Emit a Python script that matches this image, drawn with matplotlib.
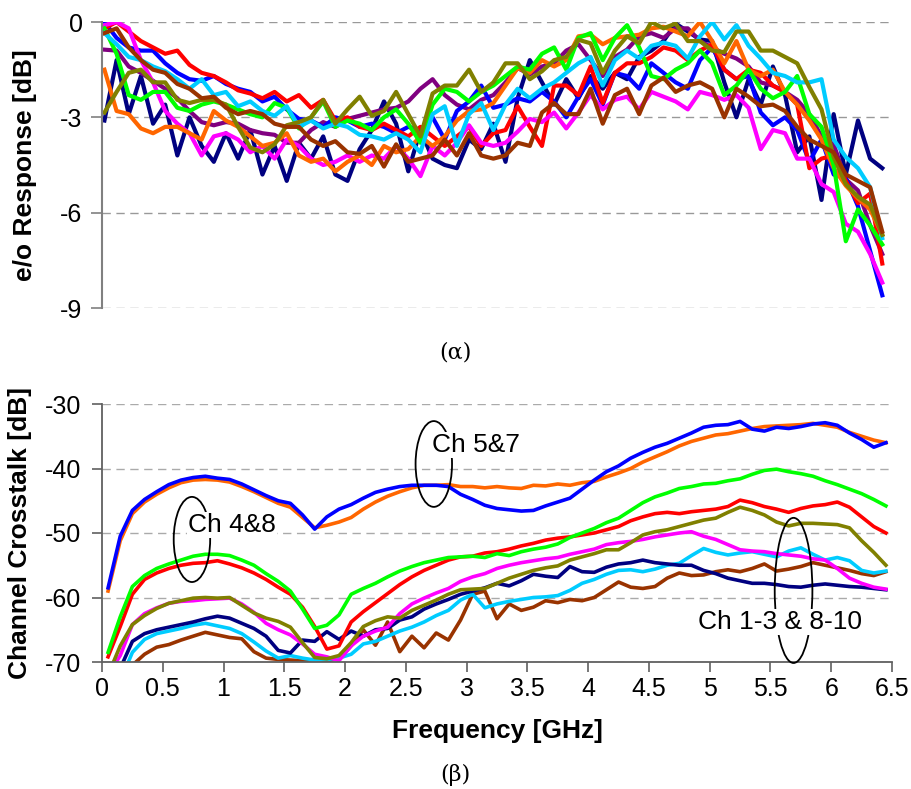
import numpy as np
import matplotlib
matplotlib.use('Agg')
import matplotlib.pyplot as plt
from matplotlib.patches import Ellipse

plt.rcParams['font.family'] = ['Liberation Sans', 'DejaVu Sans']
plt.rcParams['axes.unicode_minus'] = False

# ---------------- data ----------------
# top panel: e/o response [dB], sampled every 0.1 GHz starting at 0.02 GHz
freq_top = np.round(np.arange(0.02, 6.45, 0.1), 2)

eo_navy = [
    -3.1, -1.2, -2.9, -1.7, -3.2, -2.6, -4.2, -3.0, -3.9, -4.4,
    -3.5, -4.3, -3.4, -4.8, -3.9, -5.0, -3.8, -4.3, -3.6, -4.8,
    -5.0, -4.0, -3.4, -2.5, -3.2, -4.7, -3.4, -4.3, -4.5, -4.6,
    -3.7, -4.0, -3.2, -4.4, -2.4, -1.2, -1.9, -2.6, -1.8, -2.4,
    -1.7, -2.1, -1.6, -1.8, -1.1, -0.9, -0.6, -0.05, -0.3, -0.55,
    -0.6, -1.9, -3.0, -1.8, -2.6, -1.4, -2.3, -4.1, -3.6, -5.6,
    -2.9, -4.8, -3.1, -4.3, -4.6]
eo_blue = [
    0.0, -0.5, -0.8, -0.9, -0.9, -1.3, -1.6, -1.8, -1.85, -1.7,
    -1.95, -2.1, -2.2, -2.5, -2.35, -2.75, -3.05, -3.1, -3.3, -3.0,
    -3.1, -3.3, -3.2, -3.3, -3.5, -3.3, -3.4, -3.0, -3.7, -2.8,
    -2.5, -2.0, -2.7, -2.6, -2.4, -2.5, -2.2, -2.5, -3.0, -2.35,
    -1.8, -2.6, -1.6, -1.7, -2.1, -1.3, -1.6, -1.9, -2.1, -1.2,
    -0.8, -1.5, -1.8, -1.7, -2.85, -3.25, -3.0, -3.4, -4.4, -3.7,
    -4.8, -4.9, -5.8, -7.2, -8.6]
eo_red = [
    -0.2, 0.0, -0.3, -0.6, -0.8, -1.0, -0.9, -1.35, -1.6, -1.7,
    -1.9, -2.15, -2.25, -2.4, -2.2, -2.5, -2.3, -2.7, -2.45, -3.1,
    -3.0, -3.3, -3.4, -3.2, -3.4, -3.6, -3.3, -3.6, -3.9, -3.6,
    -3.3, -3.9, -3.5, -3.4, -2.65, -3.3, -3.9, -2.0, -2.0, -2.3,
    -1.4, -2.55, -1.6, -1.3, -1.3, -1.1, -0.8, -0.9, -1.2, -0.9,
    -0.7, -1.5, -1.8, -1.5, -1.6, -2.0, -2.2, -2.6, -4.6, -4.3,
    -4.2, -5.0, -5.7, -5.4, -7.6]
eo_green = [
    -0.2, -1.0, -2.3, -2.45, -2.2, -2.2, -2.7, -2.8, -2.6, -2.5,
    -2.6, -2.75, -2.9, -3.0, -2.55, -2.7, -3.35, -3.0, -2.5, -3.3,
    -3.1, -3.2, -3.4, -3.0, -2.75, -3.2, -3.8, -2.6, -2.1, -2.2,
    -2.5, -2.2, -2.0, -1.7, -1.4, -1.5, -1.0, -0.8, -1.5, -0.5,
    -0.35, -1.2, -0.5, -0.1, -0.8, -1.7, -1.8, -1.5, -1.3, -0.9,
    -1.3, -2.3, -2.0, -1.5, -2.1, -2.4, -2.2, -1.7, -2.9, -3.3,
    -4.5, -6.9, -5.9, -6.4, -7.0]
eo_magenta = [
    -0.1, 0.0, -0.2, -1.2, -1.9, -2.8, -3.2, -3.5, -4.2, -3.6,
    -3.5, -3.7, -4.1, -3.9, -4.3, -3.7, -3.9, -4.3, -4.5, -4.4,
    -4.2, -4.4, -4.2, -4.3, -3.9, -4.3, -4.85, -3.9, -4.2, -3.8,
    -3.25, -3.8, -3.9, -3.8, -3.45, -3.05, -3.15, -2.85, -3.35, -2.85,
    -2.3, -2.75, -2.45, -2.35, -2.75, -2.2, -2.35, -2.5, -2.75, -2.2,
    -2.3, -2.45, -2.3, -2.7, -4.0, -3.4, -3.5, -4.3, -4.3, -5.1,
    -5.35, -6.35, -6.6, -7.3, -8.2]
eo_cyan = [
    -0.35, -0.7, -1.1, -1.2, -1.4, -1.55, -1.8, -2.1, -1.8, -2.3,
    -2.2, -2.65, -2.5, -2.8, -2.95, -2.65, -3.3, -3.1, -3.35, -3.2,
    -3.3, -3.55, -3.6, -3.7, -3.5, -3.7, -4.1, -2.9, -2.65, -3.9,
    -2.9, -2.55, -3.4, -2.6, -2.1, -2.4, -2.1, -1.9, -1.6, -1.3,
    -1.1, -2.0, -1.2, -0.9, -1.15, -0.75, -0.65, -0.75, -1.15, -0.45,
    0.0, -0.55, -0.1, -0.75, -1.15, -1.6, -1.7, -1.9, -1.9, -1.8,
    -3.7, -4.25, -4.6, -5.2, -6.8]
eo_orange = [
    -1.5, -2.8, -2.9, -3.35, -3.5, -3.3, -3.3, -3.5, -3.7, -2.8,
    -3.1, -3.3, -3.6, -3.9, -3.8, -3.5, -4.2, -4.4, -4.3, -4.7,
    -4.4, -4.2, -4.5, -3.9, -4.1, -4.0, -3.6, -3.9, -3.6, -3.1,
    -2.8, -2.75, -2.55, -2.0, -1.45, -1.6, -1.2, -1.4, -1.2, -0.45,
    -0.4, -0.7, -0.5, -0.45, -0.4, -0.2, -0.15, -0.3, -0.45, 0.0,
    -0.6, -1.3, -0.6, -1.5, -1.7, -1.5, -2.2, -2.6, -3.1, -3.7,
    -4.6, -5.15, -5.55, -5.9, -6.7]
eo_olive = [
    -2.85, -2.2, -1.6, -1.5, -1.9, -1.9, -2.45, -2.55, -2.45, -2.45,
    -2.6, -3.3, -3.95, -4.1, -3.85, -3.25, -3.15, -3.0, -2.45, -3.2,
    -2.75, -2.35, -2.95, -2.8, -2.2, -2.9, -3.6, -2.25, -2.0, -2.0,
    -1.5, -2.2, -1.9, -1.3, -1.3, -1.8, -1.55, -1.2, -1.1, -0.56,
    -0.67, -1.6, -0.9, -0.45, -0.67, 0.0, -0.2, -0.05, -0.6, -0.6,
    -0.9, -0.95, -0.3, -0.3, -0.9, -0.9, -1.1, -1.3, -2.05, -2.75,
    -4.25, -5.1, -5.5, -5.75, -6.7]
eo_brown = [
    -0.35, -0.2, -0.8, -1.2, -1.5, -1.6, -1.95, -2.1, -2.4, -2.35,
    -2.7, -2.9, -2.8, -2.9, -3.2, -3.3, -3.3, -3.7, -3.9, -3.75,
    -4.1, -4.15, -3.9, -4.55, -3.85, -4.4, -4.3, -4.2, -3.7, -4.2,
    -3.5, -4.2, -4.3, -4.2, -3.8, -3.9, -2.85, -2.55, -2.9, -2.9,
    -2.1, -3.2, -2.3, -2.1, -2.9, -2.0, -1.75, -2.2, -2.0, -1.9,
    -2.1, -3.0, -2.1, -2.35, -2.65, -2.6, -2.8, -3.3, -3.7, -3.9,
    -4.1, -4.8, -5.0, -5.2, -6.6]
eo_purple = [
    -0.87, -0.9, -1.4, -1.6, -1.85, -2.1, -2.4, -2.8, -3.15, -3.25,
    -3.15, -3.2, -3.4, -3.5, -3.55, -3.8, -3.8, -3.4, -3.15, -3.3,
    -3.05, -2.95, -2.85, -2.75, -2.7, -2.5, -2.1, -1.8, -2.3, -2.6,
    -2.75, -2.45, -2.3, -1.9, -1.45, -1.65, -1.4, -1.3, -0.9, -0.7,
    -1.2, -1.7, -1.1, -0.87, -0.45, -0.35, -0.5, -0.2, -0.2, -0.6,
    -0.8, -1.0, -1.15, -1.4, -1.9, -2.0, -2.2, -2.45, -2.9, -3.6,
    -3.85, -4.95, -5.3, -6.4, -7.3]

# bottom panel: channel crosstalk [dB], sampled every 0.1 GHz starting at 0.05 GHz
freq_bot = np.round(np.arange(0.05, 6.5, 0.1), 2)

xt_blue = [
    -58.5, -50.5, -46.5, -44.8, -43.6, -42.5, -41.8, -41.4, -41.2, -41.5,
    -41.7, -42.4, -43.3, -44.2, -45.0, -45.4, -47.2, -49.4, -47.5, -46.3,
    -45.6, -44.6, -43.7, -43.2, -42.8, -42.6, -42.6, -42.6, -42.8, -44.0,
    -44.8, -45.7, -46.2, -46.4, -46.6, -46.5, -45.8, -45.2, -44.6, -43.2,
    -41.8, -40.5, -39.6, -38.4, -37.5, -36.7, -36.1, -35.3, -34.5, -33.6,
    -33.3, -33.2, -32.7, -33.9, -34.2, -33.6, -33.8, -33.5, -33.1, -32.9,
    -33.3, -34.5, -35.5, -36.7, -36.0]
xt_orange = [
    -59.0, -51.2, -47.0, -45.2, -44.0, -43.0, -42.2, -41.8, -41.7, -41.8,
    -42.1, -42.8, -43.6, -44.5, -45.4, -46.0, -47.6, -49.2, -48.8, -48.3,
    -47.6, -46.3, -45.2, -44.3, -43.6, -43.0, -42.6, -42.6, -42.5, -42.8,
    -42.8, -43.0, -42.8, -43.0, -43.1, -42.6, -42.7, -42.4, -42.6, -42.2,
    -42.0, -41.3, -40.7, -40.0, -39.0, -38.2, -37.4, -36.5, -35.8, -35.3,
    -34.8, -34.6, -34.2, -33.8, -33.5, -33.4, -33.3, -33.2, -33.0, -33.3,
    -33.6, -34.4, -35.0, -35.6, -36.0]
xt_green = [
    -68.5, -63.0, -58.3, -56.6, -55.5, -54.8, -54.2, -53.6, -53.3, -53.3,
    -53.5, -54.2, -55.0, -56.3, -57.5, -59.0, -61.8, -64.8, -64.3, -62.7,
    -59.5, -58.6, -57.8, -56.8, -55.9, -55.2, -54.6, -54.2, -53.8, -53.7,
    -53.6, -53.8, -53.2, -53.5, -52.9, -52.5, -52.2, -51.7, -50.7, -50.0,
    -49.3, -48.4, -47.7, -46.5, -45.3, -44.4, -43.8, -43.1, -42.8, -42.4,
    -42.3, -41.9, -41.6, -40.9, -40.3, -40.1, -40.5, -40.8, -41.2, -41.9,
    -42.5, -43.2, -43.9, -44.8, -45.8]
xt_red = [
    -69.2, -64.5, -59.5, -57.2, -56.2, -55.5, -55.0, -54.7, -54.6, -54.3,
    -54.8, -55.4, -56.2, -57.2, -58.4, -59.5, -61.5, -64.5, -68.0, -67.5,
    -63.8, -62.2, -60.8, -59.4, -58.0, -56.8, -55.8, -55.0, -54.2, -53.7,
    -53.6, -53.1, -52.9, -52.5, -52.0, -51.6, -51.1, -50.8, -50.6, -50.3,
    -50.0, -49.5, -49.0, -48.1, -47.5, -47.0, -46.8, -47.0, -46.7, -46.5,
    -46.3, -45.9, -44.9, -45.3, -45.9, -46.3, -46.8, -46.2, -45.8, -45.6,
    -45.2, -46.0, -47.5, -49.0, -50.0]
xt_magenta = [
    -72.0, -69.0, -64.2, -62.5, -61.6, -60.9, -60.6, -60.5, -60.3, -60.2,
    -60.1, -61.0, -62.3, -64.0, -65.0, -65.8, -67.2, -68.8, -69.2, -69.8,
    -67.5, -66.0, -65.2, -64.6, -62.5, -61.0, -60.1, -59.3, -58.6, -57.5,
    -56.8, -56.3, -55.5, -55.0, -54.6, -54.3, -54.0, -53.8, -53.3, -52.9,
    -52.5, -51.8, -51.5, -51.3, -51.0, -50.6, -50.3, -50.0, -49.8, -50.5,
    -51.0, -51.8, -52.6, -52.8, -52.9, -53.2, -53.4, -53.6, -54.0, -54.2,
    -55.5, -57.0, -57.8, -58.4, -58.7]
xt_olive = [
    -72.0, -67.5, -64.2, -62.8, -61.7, -60.9, -60.5, -60.1, -60.0, -60.1,
    -60.0, -61.2, -62.4, -63.2, -63.7, -64.6, -67.0, -69.3, -69.5, -69.0,
    -67.0, -64.5, -63.6, -63.0, -63.2, -62.0, -61.2, -60.4, -59.5, -58.8,
    -58.7, -58.6, -57.8, -57.0, -56.4, -55.8, -55.4, -55.1, -54.2, -53.7,
    -53.2, -52.6, -52.6, -51.5, -50.3, -49.8, -49.5, -49.0, -48.5, -48.0,
    -47.7, -46.8, -46.0, -46.5, -47.2, -48.3, -48.9, -48.5, -48.5, -48.6,
    -48.7, -49.2, -51.2, -53.0, -55.0]
xt_navy = [
    -74.0, -71.0, -66.8, -65.6, -65.0, -64.6, -64.2, -63.8, -63.3, -62.9,
    -63.2, -64.0, -64.8, -66.0, -68.2, -68.6, -66.6, -66.8, -65.3, -66.5,
    -65.2, -66.0, -65.0, -64.8, -63.5, -63.0, -61.8, -61.0, -60.3, -59.5,
    -59.0, -58.5, -57.8, -58.2, -57.4, -56.4, -56.7, -56.9, -55.2, -56.0,
    -56.1, -55.3, -54.8, -54.6, -54.2, -54.6, -54.8, -55.0, -55.0, -55.8,
    -56.3, -57.0, -57.4, -57.8, -57.8, -58.0, -58.3, -58.4, -58.1, -57.9,
    -58.1, -58.3, -58.4, -58.6, -58.8]
xt_cyan = [
    -75.0, -73.0, -68.5, -66.5, -65.6, -65.2, -64.8, -64.3, -64.0, -64.4,
    -64.8, -65.6, -66.9, -68.3, -69.4, -69.0, -69.4, -69.7, -69.6, -69.4,
    -68.8, -67.2, -66.8, -66.0, -65.2, -64.6, -63.8, -62.8, -62.0, -60.4,
    -59.5, -61.6, -61.0, -60.6, -60.3, -60.0, -59.9, -59.7, -58.9, -57.8,
    -57.2, -56.4, -55.8, -55.7, -56.0, -55.6, -55.0, -54.7, -53.5, -52.4,
    -53.0, -53.4, -53.1, -52.9, -53.3, -53.7, -52.8, -52.3, -53.3, -54.2,
    -53.8, -54.3, -55.8, -56.2, -55.9]
xt_brown = [
    -78.0, -74.0, -70.5, -68.8, -67.7, -67.3, -66.6, -66.0, -65.4, -65.8,
    -66.2, -66.4, -68.4, -69.4, -69.6, -69.7, -69.8, -69.6, -69.8, -69.5,
    -67.5, -65.0, -67.4, -63.8, -68.4, -66.0, -67.8, -65.5, -66.6, -63.5,
    -59.5, -59.0, -63.3, -61.0, -62.0, -61.5, -60.5, -60.8, -60.3, -60.5,
    -60.0, -58.8, -57.6, -58.4, -58.6, -58.3, -57.0, -56.2, -56.6, -56.5,
    -56.0, -55.7, -56.0, -55.5, -54.8, -55.9, -55.6, -55.2, -54.6, -55.0,
    -55.4, -55.8, -56.3, -56.6, -56.0]

# colours used in the original
NAVY, BLUE, RED, LIME = '#000080', '#0000FF', '#FF0000', '#00FF00'
MAGENTA, CYAN, ORANGE = '#FF00FF', '#00CCFF', '#FF6600'
OLIVE, BROWN, PURPLE = '#808000', '#993300', '#800080'

fig = plt.figure(figsize=(9.11, 7.89), dpi=100)

# ---------------- top panel: e/o response ----------------
ax1 = fig.add_axes([102 / 911, 1 - 308 / 789, 790 / 911, 286 / 789])
top_series = [(eo_navy, NAVY), (eo_purple, PURPLE), (eo_blue, BLUE),
              (eo_red, RED), (eo_magenta, MAGENTA), (eo_orange, ORANGE),
              (eo_green, LIME), (eo_cyan, CYAN), (eo_olive, OLIVE),
              (eo_brown, BROWN)]
for vals, col in top_series:
    ax1.plot(freq_top, vals, color=col, lw=3.0, solid_joinstyle='round')

ax1.set_xlim(0, 6.5)
ax1.set_ylim(-9, 0)
ax1.set_xticks([])
ax1.set_yticks([0, -3, -6, -9])
ax1.set_yticklabels(['0', '-3', '-6', '-9'])
ax1.tick_params(axis='y', direction='out', length=8, width=1.2, color='#808080',
                labelsize=18, pad=6)
for side in ['top', 'right', 'bottom']:
    ax1.spines[side].set_visible(False)
ax1.spines['left'].set_color('#808080')
ax1.spines['left'].set_linewidth(1.5)
ax1.yaxis.grid(True, linestyle=(0, (6, 4)), color='#999999', lw=1.0)
ax1.set_axisbelow(True)
ax1.set_ylabel('e/o Response [dB]', fontsize=19, fontweight='bold')
ax1.yaxis.set_label_coords(-0.082, 0.5)

fig.text(455 / 911, 1 - 352 / 789, '(α)', family='DejaVu Serif', fontsize=16,
         ha='center', va='center')

# ---------------- bottom panel: channel crosstalk ----------------
ax2 = fig.add_axes([102 / 911, 1 - 662 / 789, 790 / 911, 258 / 789])
bot_series = [(xt_brown, BROWN), (xt_cyan, CYAN), (xt_navy, NAVY),
              (xt_magenta, MAGENTA), (xt_olive, OLIVE), (xt_red, RED),
              (xt_green, LIME), (xt_orange, ORANGE), (xt_blue, BLUE)]
for vals, col in bot_series:
    ax2.plot(freq_bot, vals, color=col, lw=2.6, solid_joinstyle='round')

ax2.set_xlim(0, 6.5)
ax2.set_ylim(-70, -30)
xt = np.arange(0, 6.51, 0.5)
ax2.set_xticks(xt)
ax2.set_xticklabels(['%g' % v for v in xt])
ax2.set_yticks([-70, -60, -50, -40, -30])
ax2.set_yticklabels(['-70', '-60', '-50', '-40', '-30'])
ax2.tick_params(direction='out', length=7, width=1.2, color='#606060',
                labelsize=18)
ax2.tick_params(axis='y', pad=8)
ax2.tick_params(axis='x', pad=4)
for side in ['top', 'right']:
    ax2.spines[side].set_visible(False)
for side in ['left', 'bottom']:
    ax2.spines[side].set_color('#606060')
    ax2.spines[side].set_linewidth(1.3)
ax2.yaxis.grid(True, linestyle=(0, (6, 4)), color='#aaaaaa', lw=1.0)
ax2.set_axisbelow(True)
ax2.set_ylabel('Channel Crosstalk [dB]', fontsize=19, fontweight='bold')
ax2.yaxis.set_label_coords(-0.089, 0.5)
ax2.set_xlabel('Frequency [GHz]', fontsize=19, fontweight='bold')
ax2.xaxis.set_label_coords(0.5, -0.22)

# channel group annotations: ellipse plus label
groups = [((0.74, -51.0), 0.30, 13.2, 'Ch 4&8', (1.07, -48.8)),
          ((2.73, -39.3), 0.30, 13.3, 'Ch 5&7', (3.08, -36.4)),
          ((5.69, -58.9), 0.31, 22.5, 'Ch 1-3 & 8-10', (5.58, -63.8))]
for center, w, h, label, pos in groups:
    ax2.add_patch(Ellipse(center, w, h, fill=False, ec='black', lw=1.3,
                          zorder=5, clip_on=False))
    ax2.text(pos[0], pos[1], label, fontsize=19, ha='center', va='center',
             zorder=6, bbox=dict(fc='white', ec='none', pad=0.5))

fig.text(455 / 911, 1 - 775 / 789, '(β)', family='DejaVu Serif', fontsize=16,
         ha='center', va='center')

fig.savefig('out.png', dpi=100)
